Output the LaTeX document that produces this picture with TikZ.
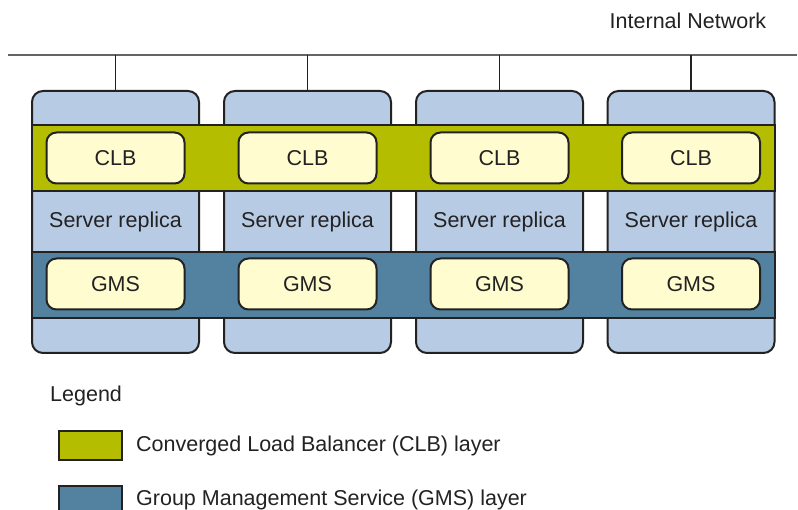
\documentclass[tikz,border=0pt]{standalone}
\usepackage{fontspec}
\setmainfont{Liberation Sans}
\definecolor{srvblue}{RGB}{184,203,228}
\definecolor{clbgreen}{RGB}{181,189,0}
\definecolor{gmsblue}{RGB}{83,130,160}
\definecolor{cream}{RGB}{255,252,208}
\definecolor{ink}{RGB}{34,34,34}
\definecolor{netgray}{RGB}{100,100,100}
\begin{document}
\begin{tikzpicture}[x=1pt,y=-1pt,
  font=\fontsize{21.5}{26}\selectfont,
  server/.style={draw=ink, line width=2pt, fill=srvblue, rounded corners=11pt,
    minimum width=167pt, minimum height=262pt, inner sep=0pt, anchor=north west},
  band/.style={draw=ink, line width=2pt, minimum width=742.5pt, minimum height=66pt,
    inner sep=0pt, anchor=north west},
  unit/.style={draw=ink, line width=2pt, fill=cream, rounded corners=10pt,
    minimum width=138pt, minimum height=51pt, inner sep=0pt, text=ink},
  label/.style={text=ink, inner sep=0pt},
  swatch/.style={draw=ink, line width=2pt, minimum width=63pt, minimum height=29pt,
    inner sep=0pt, anchor=north west},
  link/.style={draw=ink, line width=1.5pt}]
\useasboundingbox (0,0) rectangle (798,510);

% network bus
\coordinate (netL) at (8,55);
\coordinate (netR) at (797,55);
\draw[netgray, line width=2pt] (netL) -- (netR);
\node[label, anchor=center] (netlabel) at (688,21) {Internal Network};

% server replicas
\foreach \i/\x in {1/31, 2/223, 3/415, 4/606.5} {
  \node[server] (srv\i) at (\x,90) {};
  \draw[link] (srv\i.north |- netL) -- (srv\i.north);
}

% layers spanning all replicas
\node[band, fill=clbgreen] (clb) at (31,124) {};
\node[band, fill=gmsblue] (gms) at (31,251) {};

\foreach \i in {1,...,4} {
  \node[unit] (clb\i) at (srv\i.center |- 0,158) {CLB};
  \node[unit] (gms\i) at (srv\i.center |- 0,284) {GMS};
  \node[label] (rep\i) at (srv\i.center |- 0,222) {Server replica};
}

% legend
\node[label, anchor=west] (legend) at (50,396) {Legend};
\node[swatch, fill=clbgreen] (keyclb) at (58,430) {};
\node[swatch, fill=gmsblue] (keygms) at (58,485) {};
\node[label, anchor=west] (txtclb) at (136,446) {Converged Load Balancer (CLB) layer};
\node[label, anchor=west] (txtgms) at (136,500) {Group Management Service (GMS) layer};
\end{tikzpicture}
\end{document}
